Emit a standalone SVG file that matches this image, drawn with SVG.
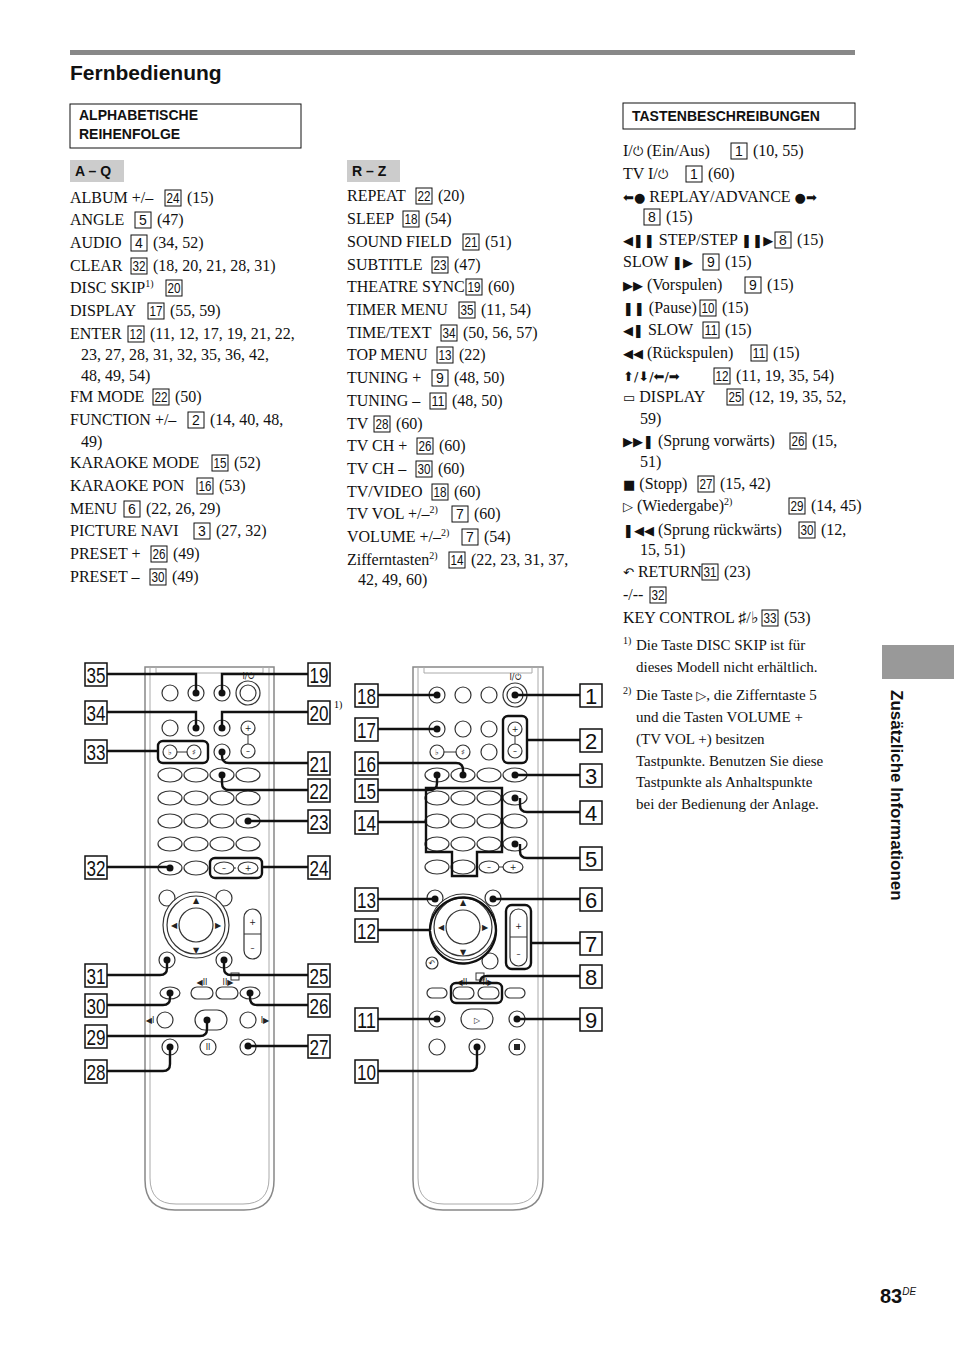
<svg xmlns="http://www.w3.org/2000/svg" width="954" height="1352" viewBox="0 0 954 1352">
<style>
.t{font-family:"Liberation Serif",serif;font-size:16px;fill:#111}
.f{font-family:"Liberation Serif",serif;font-size:15px;fill:#111}
.sup{font-size:10px}
.s{font-family:"DejaVu Sans",sans-serif;font-size:13px}
.bx{fill:#fff;stroke:#111;stroke-width:1}
.n{font-family:"Liberation Sans",sans-serif;font-size:14px;text-anchor:middle;fill:#111}
.h{font-family:"Liberation Sans",sans-serif;font-weight:bold;font-size:14px;fill:#111}
.lb{fill:#fff;stroke:#111;stroke-width:1.5}
.ln{font-family:"Liberation Sans",sans-serif;font-size:22px;text-anchor:middle;fill:#111}
.c{fill:none;stroke:#111;stroke-width:2.4}
.btn{fill:#fff;stroke:#333;stroke-width:1.2}
.body{fill:#fff;stroke:#888;stroke-width:1.5}
.dot{fill:#111}
.sym{font-family:"DejaVu Sans",sans-serif;font-size:8px;text-anchor:middle;fill:#222}
</style>
<rect x="70" y="50" width="785" height="5" fill="#888"/>
<text x="70" y="80" font-family="Liberation Sans,sans-serif" font-weight="bold" font-size="21" fill="#111">Fernbedienung</text>
<rect x="70" y="104" width="231" height="44" fill="none" stroke="#111"/>
<text class="h" x="79" y="120">ALPHABETISCHE</text>
<text class="h" x="79" y="139">REIHENFOLGE</text>
<rect x="70" y="160" width="54" height="22" fill="#ccc"/>
<text class="h" x="75" y="176">A – Q</text>
<rect x="347" y="160" width="53" height="22" fill="#ccc"/>
<text class="h" x="352" y="176">R – Z</text>
<rect x="623" y="103" width="232" height="26" fill="none" stroke="#111"/>
<text class="h" x="632" y="121">TASTENBESCHREIBUNGEN</text>

<g id="col1">
<text class="t" x="70" y="203">ALBUM +/–</text><rect class="bx" x="165" y="190" width="16" height="16"/><text class="n" x="173" y="203" textLength="13" lengthAdjust="spacingAndGlyphs">24</text><text class="t" x="187" y="203">(15)</text>
<text class="t" x="70" y="225">ANGLE</text><rect class="bx" x="135" y="212" width="16" height="16"/><text class="n" x="143" y="225">5</text><text class="t" x="157" y="225">(47)</text>
<text class="t" x="70" y="248">AUDIO</text><rect class="bx" x="131" y="235" width="16" height="16"/><text class="n" x="139" y="248">4</text><text class="t" x="153" y="248">(34, 52)</text>
<text class="t" x="70" y="271">CLEAR</text><rect class="bx" x="131" y="258" width="16" height="16"/><text class="n" x="139" y="271" textLength="13" lengthAdjust="spacingAndGlyphs">32</text><text class="t" x="153" y="271">(18, 20, 21, 28, 31)</text>
<text class="t" x="70" y="293">DISC SKIP<tspan class="sup" dy="-6">1)</tspan></text><rect class="bx" x="166" y="280" width="16" height="16"/><text class="n" x="174" y="293" textLength="13" lengthAdjust="spacingAndGlyphs">20</text>
<text class="t" x="70" y="316">DISPLAY</text><rect class="bx" x="148" y="303" width="16" height="16"/><text class="n" x="156" y="316" textLength="13" lengthAdjust="spacingAndGlyphs">17</text><text class="t" x="170" y="316">(55, 59)</text>
<text class="t" x="70" y="339">ENTER</text><rect class="bx" x="128" y="326" width="16" height="16"/><text class="n" x="136" y="339" textLength="13" lengthAdjust="spacingAndGlyphs">12</text><text class="t" x="150" y="339">(11, 12, 17, 19, 21, 22,</text>
<text class="t" x="81" y="360">23, 27, 28, 31, 32, 35, 36, 42,</text>
<text class="t" x="81" y="381">48, 49, 54)</text>
<text class="t" x="70" y="402">FM MODE</text><rect class="bx" x="153" y="389" width="16" height="16"/><text class="n" x="161" y="402" textLength="13" lengthAdjust="spacingAndGlyphs">22</text><text class="t" x="175" y="402">(50)</text>
<text class="t" x="70" y="425">FUNCTION +/–</text><rect class="bx" x="188" y="412" width="16" height="16"/><text class="n" x="196" y="425">2</text><text class="t" x="210" y="425">(14, 40, 48,</text>
<text class="t" x="81" y="447">49)</text>
<text class="t" x="70" y="468">KARAOKE MODE</text><rect class="bx" x="212" y="455" width="16" height="16"/><text class="n" x="220" y="468" textLength="13" lengthAdjust="spacingAndGlyphs">15</text><text class="t" x="234" y="468">(52)</text>
<text class="t" x="70" y="491">KARAOKE PON</text><rect class="bx" x="197" y="478" width="16" height="16"/><text class="n" x="205" y="491" textLength="13" lengthAdjust="spacingAndGlyphs">16</text><text class="t" x="219" y="491">(53)</text>
<text class="t" x="70" y="514">MENU</text><rect class="bx" x="124" y="501" width="16" height="16"/><text class="n" x="132" y="514">6</text><text class="t" x="146" y="514">(22, 26, 29)</text>
<text class="t" x="70" y="536">PICTURE NAVI</text><rect class="bx" x="194" y="523" width="16" height="16"/><text class="n" x="202" y="536">3</text><text class="t" x="216" y="536">(27, 32)</text>
<text class="t" x="70" y="559">PRESET +</text><rect class="bx" x="151" y="546" width="16" height="16"/><text class="n" x="159" y="559" textLength="13" lengthAdjust="spacingAndGlyphs">26</text><text class="t" x="173" y="559">(49)</text>
<text class="t" x="70" y="582">PRESET –</text><rect class="bx" x="150" y="569" width="16" height="16"/><text class="n" x="158" y="582" textLength="13" lengthAdjust="spacingAndGlyphs">30</text><text class="t" x="172" y="582">(49)</text>
</g>

<g id="col2">
<text class="t" x="347" y="201">REPEAT</text><rect class="bx" x="416" y="188" width="16" height="16"/><text class="n" x="424" y="201" textLength="13" lengthAdjust="spacingAndGlyphs">22</text><text class="t" x="438" y="201">(20)</text>
<text class="t" x="347" y="224">SLEEP</text><rect class="bx" x="403" y="211" width="16" height="16"/><text class="n" x="411" y="224" textLength="13" lengthAdjust="spacingAndGlyphs">18</text><text class="t" x="425" y="224">(54)</text>
<text class="t" x="347" y="247">SOUND FIELD</text><rect class="bx" x="463" y="234" width="16" height="16"/><text class="n" x="471" y="247" textLength="13" lengthAdjust="spacingAndGlyphs">21</text><text class="t" x="485" y="247">(51)</text>
<text class="t" x="347" y="270">SUBTITLE</text><rect class="bx" x="432" y="257" width="16" height="16"/><text class="n" x="440" y="270" textLength="13" lengthAdjust="spacingAndGlyphs">23</text><text class="t" x="454" y="270">(47)</text>
<text class="t" x="347" y="292">THEATRE SYNC</text><rect class="bx" x="466" y="279" width="16" height="16"/><text class="n" x="474" y="292" textLength="13" lengthAdjust="spacingAndGlyphs">19</text><text class="t" x="488" y="292">(60)</text>
<text class="t" x="347" y="315">TIMER MENU</text><rect class="bx" x="459" y="302" width="16" height="16"/><text class="n" x="467" y="315" textLength="13" lengthAdjust="spacingAndGlyphs">35</text><text class="t" x="481" y="315">(11, 54)</text>
<text class="t" x="347" y="338">TIME/TEXT</text><rect class="bx" x="441" y="325" width="16" height="16"/><text class="n" x="449" y="338" textLength="13" lengthAdjust="spacingAndGlyphs">34</text><text class="t" x="463" y="338">(50, 56, 57)</text>
<text class="t" x="347" y="360">TOP MENU</text><rect class="bx" x="437" y="347" width="16" height="16"/><text class="n" x="445" y="360" textLength="13" lengthAdjust="spacingAndGlyphs">13</text><text class="t" x="459" y="360">(22)</text>
<text class="t" x="347" y="383">TUNING +</text><rect class="bx" x="432" y="370" width="16" height="16"/><text class="n" x="440" y="383">9</text><text class="t" x="454" y="383">(48, 50)</text>
<text class="t" x="347" y="406">TUNING –</text><rect class="bx" x="430" y="393" width="16" height="16"/><text class="n" x="438" y="406" textLength="13" lengthAdjust="spacingAndGlyphs">11</text><text class="t" x="452" y="406">(48, 50)</text>
<text class="t" x="347" y="429">TV</text><rect class="bx" x="374" y="416" width="16" height="16"/><text class="n" x="382" y="429" textLength="13" lengthAdjust="spacingAndGlyphs">28</text><text class="t" x="396" y="429">(60)</text>
<text class="t" x="347" y="451">TV CH +</text><rect class="bx" x="417" y="438" width="16" height="16"/><text class="n" x="425" y="451" textLength="13" lengthAdjust="spacingAndGlyphs">26</text><text class="t" x="439" y="451">(60)</text>
<text class="t" x="347" y="474">TV CH –</text><rect class="bx" x="416" y="461" width="16" height="16"/><text class="n" x="424" y="474" textLength="13" lengthAdjust="spacingAndGlyphs">30</text><text class="t" x="438" y="474">(60)</text>
<text class="t" x="347" y="497">TV/VIDEO</text><rect class="bx" x="432" y="484" width="16" height="16"/><text class="n" x="440" y="497" textLength="13" lengthAdjust="spacingAndGlyphs">18</text><text class="t" x="454" y="497">(60)</text>
<text class="t" x="347" y="519">TV VOL +/–<tspan class="sup" dy="-6">2)</tspan></text><rect class="bx" x="452" y="506" width="16" height="16"/><text class="n" x="460" y="519">7</text><text class="t" x="474" y="519">(60)</text>
<text class="t" x="347" y="542">VOLUME +/–<tspan class="sup" dy="-6">2)</tspan></text><rect class="bx" x="462" y="529" width="16" height="16"/><text class="n" x="470" y="542">7</text><text class="t" x="484" y="542">(54)</text>
<text class="t" x="347" y="565">Zifferntasten<tspan class="sup" dy="-6">2)</tspan></text><rect class="bx" x="449" y="552" width="16" height="16"/><text class="n" x="457" y="565" textLength="13" lengthAdjust="spacingAndGlyphs">14</text><text class="t" x="471" y="565">(22, 23, 31, 37,</text>
<text class="t" x="358" y="585">42, 49, 60)</text>
</g>

<g id="col3">
<text class="t" x="623" y="156">I/<tspan class="s">⏻</tspan> (Ein/Aus)</text><rect class="bx" x="731" y="143" width="16" height="16"/><text class="n" x="739" y="156">1</text><text class="t" x="753" y="156">(10, 55)</text>
<text class="t" x="623" y="179">TV I/<tspan class="s">⏻</tspan></text><rect class="bx" x="686" y="166" width="16" height="16"/><text class="n" x="694" y="179">1</text><text class="t" x="708" y="179">(60)</text>
<text class="t" x="623" y="202"><tspan class="s">⬅●</tspan> REPLAY/ADVANCE <tspan class="s">●➡</tspan></text>
<rect class="bx" x="644" y="209" width="16" height="16"/><text class="n" x="652" y="222">8</text><text class="t" x="666" y="222">(15)</text>
<text class="t" x="623" y="245"><tspan class="s">◀❚❚</tspan> STEP/STEP <tspan class="s">❚❚▶</tspan></text><rect class="bx" x="775" y="232" width="16" height="16"/><text class="n" x="783" y="245">8</text><text class="t" x="797" y="245">(15)</text>
<text class="t" x="623" y="267">SLOW <tspan class="s">❚▶</tspan></text><rect class="bx" x="703" y="254" width="16" height="16"/><text class="n" x="711" y="267">9</text><text class="t" x="725" y="267">(15)</text>
<text class="t" x="623" y="290"><tspan class="s">▶▶</tspan> (Vorspulen)</text><rect class="bx" x="745" y="277" width="16" height="16"/><text class="n" x="753" y="290">9</text><text class="t" x="767" y="290">(15)</text>
<text class="t" x="623" y="313"><tspan class="s">❚❚</tspan> (Pause)</text><rect class="bx" x="700" y="300" width="16" height="16"/><text class="n" x="708" y="313" textLength="13" lengthAdjust="spacingAndGlyphs">10</text><text class="t" x="722" y="313">(15)</text>
<text class="t" x="623" y="335"><tspan class="s">◀❚</tspan> SLOW</text><rect class="bx" x="703" y="322" width="16" height="16"/><text class="n" x="711" y="335" textLength="13" lengthAdjust="spacingAndGlyphs">11</text><text class="t" x="725" y="335">(15)</text>
<text class="t" x="623" y="358"><tspan class="s">◀◀</tspan> (Rückspulen)</text><rect class="bx" x="751" y="345" width="16" height="16"/><text class="n" x="759" y="358" textLength="13" lengthAdjust="spacingAndGlyphs">11</text><text class="t" x="773" y="358">(15)</text>
<text class="t" x="623" y="381"><tspan class="s">⬆/⬇/⬅/➡</tspan></text><rect class="bx" x="714" y="368" width="16" height="16"/><text class="n" x="722" y="381" textLength="13" lengthAdjust="spacingAndGlyphs">12</text><text class="t" x="736" y="381">(11, 19, 35, 54)</text>
<text class="t" x="623" y="402"><tspan class="s">▭</tspan> DISPLAY</text><rect class="bx" x="727" y="389" width="16" height="16"/><text class="n" x="735" y="402" textLength="13" lengthAdjust="spacingAndGlyphs">25</text><text class="t" x="749" y="402">(12, 19, 35, 52,</text>
<text class="t" x="640" y="424">59)</text>
<text class="t" x="623" y="446"><tspan class="s">▶▶❚</tspan> (Sprung vorwärts)</text><rect class="bx" x="790" y="433" width="16" height="16"/><text class="n" x="798" y="446" textLength="13" lengthAdjust="spacingAndGlyphs">26</text><text class="t" x="812" y="446">(15,</text>
<text class="t" x="640" y="467">51)</text>
<text class="t" x="623" y="489"><tspan class="s">■</tspan> (Stopp)</text><rect class="bx" x="698" y="476" width="16" height="16"/><text class="n" x="706" y="489" textLength="13" lengthAdjust="spacingAndGlyphs">27</text><text class="t" x="720" y="489">(15, 42)</text>
<text class="t" x="623" y="511"><tspan class="s">▷</tspan> (Wiedergabe)<tspan class="sup" dy="-6">2)</tspan></text><rect class="bx" x="789" y="498" width="16" height="16"/><text class="n" x="797" y="511" textLength="13" lengthAdjust="spacingAndGlyphs">29</text><text class="t" x="811" y="511">(14, 45)</text>
<text class="t" x="623" y="535"><tspan class="s">❚◀◀</tspan> (Sprung rückwärts)</text><rect class="bx" x="799" y="522" width="16" height="16"/><text class="n" x="807" y="535" textLength="13" lengthAdjust="spacingAndGlyphs">30</text><text class="t" x="821" y="535">(12,</text>
<text class="t" x="640" y="555">15, 51)</text>
<text class="t" x="623" y="577"><tspan class="s">↶</tspan> RETURN</text><rect class="bx" x="702" y="564" width="16" height="16"/><text class="n" x="710" y="577" textLength="13" lengthAdjust="spacingAndGlyphs">31</text><text class="t" x="724" y="577">(23)</text>
<text class="t" x="623" y="600">-/--</text><rect class="bx" x="650" y="587" width="16" height="16"/><text class="n" x="658" y="600" textLength="13" lengthAdjust="spacingAndGlyphs">32</text>
<text class="t" x="623" y="623">KEY CONTROL ♯/♭</text><rect class="bx" x="762" y="610" width="16" height="16"/><text class="n" x="770" y="623" textLength="13" lengthAdjust="spacingAndGlyphs">33</text><text class="t" x="784" y="623">(53)</text>
<text class="f" x="623" y="644"><tspan class="sup">1)</tspan></text>
<text class="f" x="636" y="650">Die Taste DISC SKIP ist für</text>
<text class="f" x="636" y="672">dieses Modell nicht erhältlich.</text>
<text class="f" x="623" y="694"><tspan class="sup">2)</tspan></text>
<text class="f" x="636" y="700">Die Taste <tspan class="s">▷</tspan>, die Zifferntaste 5</text>
<text class="f" x="636" y="722">und die Tasten VOLUME +</text>
<text class="f" x="636" y="744">(TV VOL +) besitzen</text>
<text class="f" x="636" y="766">Tastpunkte. Benutzen Sie diese</text>
<text class="f" x="636" y="787">Tastpunkte als Anhaltspunkte</text>
<text class="f" x="636" y="809">bei der Bedienung der Anlage.</text>
</g>

<rect x="882" y="645" width="72" height="34" fill="#999"/>
<text transform="translate(891,690) rotate(90)" font-family="Liberation Sans,sans-serif" font-weight="bold" font-size="17" fill="#111">Zusätzliche Informationen</text>
<text x="880" y="1303" font-family="Liberation Sans,sans-serif" font-weight="bold" font-size="20" fill="#111">83<tspan font-size="10" font-style="italic" font-weight="normal" dy="-8">DE</tspan></text>

<!-- Left remote -->
<g id="remote-left">
<path class="body" d="M145 667 H274 V1180 Q274 1210 244 1210 H175 Q145 1210 145 1180 Z"/>
<path d="M150 667 V1178 Q150 1204 176 1204 H243 Q269 1204 269 1178 V667" fill="none" stroke="#aaa" stroke-width="1"/>
<path d="M156 667 V673 H263 V667" fill="none" stroke="#aaa"/>
<circle class="btn" cx="170" cy="693" r="8"/><circle class="btn" cx="196" cy="693" r="8"/><circle class="btn" cx="222" cy="693" r="8"/>
<circle class="btn" cx="248" cy="693" r="12"/><circle class="btn" cx="248" cy="693" r="8"/>
<text class="sym" x="248" y="679">I/⏻</text>
<circle class="btn" cx="170" cy="728" r="8"/><circle class="btn" cx="196" cy="728" r="8"/><circle class="btn" cx="222" cy="728" r="8"/>
<line x1="248" y1="728" x2="248" y2="751" stroke="#333"/>
<circle class="btn" cx="248" cy="728" r="7"/><circle class="btn" cx="248" cy="751" r="7"/>
<text class="sym" x="248" y="731" font-size="10">+</text><text class="sym" x="248" y="754" font-size="10">–</text>
<line x1="170" y1="752" x2="194" y2="752" stroke="#333"/>
<circle class="btn" cx="170" cy="752" r="7"/><circle class="btn" cx="194" cy="752" r="7"/>
<text class="sym" x="170" y="755">♭</text><text class="sym" x="194" y="755">♯</text>
<circle class="btn" cx="222" cy="752" r="8"/>
<g>
<ellipse class="btn" cx="170" cy="775" rx="12" ry="7"/><ellipse class="btn" cx="196" cy="775" rx="12" ry="7"/><ellipse class="btn" cx="222" cy="775" rx="12" ry="7"/><ellipse class="btn" cx="248" cy="775" rx="12" ry="7"/>
<ellipse class="btn" cx="170" cy="798" rx="12" ry="7"/><ellipse class="btn" cx="196" cy="798" rx="12" ry="7"/><ellipse class="btn" cx="222" cy="798" rx="12" ry="7"/><ellipse class="btn" cx="248" cy="798" rx="12" ry="7"/>
<ellipse class="btn" cx="170" cy="821" rx="12" ry="7"/><ellipse class="btn" cx="196" cy="821" rx="12" ry="7"/><ellipse class="btn" cx="222" cy="821" rx="12" ry="7"/><ellipse class="btn" cx="248" cy="821" rx="12" ry="7"/>
<ellipse class="btn" cx="170" cy="844" rx="12" ry="7"/><ellipse class="btn" cx="196" cy="844" rx="12" ry="7"/><ellipse class="btn" cx="222" cy="844" rx="12" ry="7"/><ellipse class="btn" cx="248" cy="844" rx="12" ry="7"/>
<ellipse class="btn" cx="170" cy="868" rx="12" ry="7"/><ellipse class="btn" cx="196" cy="868" rx="12" ry="7"/>
<line x1="224" y1="868" x2="236" y2="868" stroke="#333"/>
<ellipse class="btn" cx="224" cy="868" rx="10" ry="6"/><ellipse class="btn" cx="248" cy="868" rx="10" ry="6"/>
<text class="sym" x="224" y="871">–</text><text class="sym" x="248" y="871">+</text>
</g>
<circle class="btn" cx="167" cy="898" r="8"/><circle class="btn" cx="224" cy="898" r="8"/>
<circle class="btn" cx="196" cy="925" r="33"/><circle class="btn" cx="196" cy="925" r="29"/><circle class="btn" cx="196" cy="925" r="17"/>
<text class="sym" x="196" y="903">▲</text><text class="sym" x="196" y="953">▼</text><text class="sym" x="174" y="928">◀</text><text class="sym" x="218" y="928">▶</text>
<rect class="btn" x="244" y="909" width="17" height="50" rx="8.5"/>
<line x1="244" y1="934" x2="261" y2="934" stroke="#333"/>
<text class="sym" x="252.5" y="925" font-size="14">+</text><text class="sym" x="252.5" y="951" font-size="14">–</text>
<circle class="btn" cx="167" cy="960" r="8"/><circle class="btn" cx="224" cy="960" r="8"/>
<rect x="231" y="973" width="8" height="7" fill="none" stroke="#333"/>
<text class="sym" x="202" y="985" font-size="6">◀II</text><text class="sym" x="228" y="985" font-size="6">II▶</text>
<ellipse class="btn" cx="170" cy="993" rx="10" ry="6"/><rect class="btn" x="191" y="987" width="22" height="12" rx="6"/><rect class="btn" x="216" y="987" width="22" height="12" rx="6"/><ellipse class="btn" cx="250" cy="993" rx="10" ry="6"/>
<circle class="btn" cx="165" cy="1020" r="8"/><rect class="btn" x="195" y="1010" width="32" height="20" rx="10"/><circle class="btn" cx="248" cy="1020" r="8"/>
<text class="sym" x="150" y="1023">◀I</text><text class="sym" x="265" y="1023">I▶</text>
<circle class="btn" cx="170" cy="1047" r="8"/><circle class="btn" cx="208" cy="1047" r="8"/><circle class="btn" cx="248" cy="1047" r="8"/>
<text class="sym" x="208" y="1050">II</text>
</g>

<!-- Right remote -->
<g id="remote-right">
<path class="body" d="M413 667 H543 V1180 Q543 1210 513 1210 H443 Q413 1210 413 1180 Z"/>
<path d="M418 667 V1178 Q418 1204 444 1204 H512 Q538 1204 538 1178 V667" fill="none" stroke="#aaa" stroke-width="1"/>
<path d="M424 667 V673 H532 V667" fill="none" stroke="#aaa"/>
<circle class="btn" cx="437" cy="695" r="8"/><circle class="btn" cx="463" cy="695" r="8"/><circle class="btn" cx="489" cy="695" r="8"/>
<circle class="btn" cx="515" cy="695" r="12"/><circle class="btn" cx="515" cy="695" r="8"/>
<text class="sym" x="515" y="680">I/⏻</text>
<circle class="btn" cx="437" cy="729" r="8"/><circle class="btn" cx="463" cy="729" r="8"/><circle class="btn" cx="489" cy="729" r="8"/>
<line x1="515" y1="729" x2="515" y2="751" stroke="#333"/>
<circle class="btn" cx="515" cy="729" r="7"/><circle class="btn" cx="515" cy="751" r="7"/>
<text class="sym" x="515" y="732" font-size="10">+</text><text class="sym" x="515" y="754" font-size="10">–</text>
<line x1="437" y1="752" x2="463" y2="752" stroke="#333"/>
<circle class="btn" cx="437" cy="752" r="7"/><circle class="btn" cx="463" cy="752" r="7"/>
<text class="sym" x="437" y="755">♭</text><text class="sym" x="463" y="755">♯</text>
<circle class="btn" cx="489" cy="752" r="8"/>
<ellipse class="btn" cx="437" cy="775" rx="12" ry="7"/><ellipse class="btn" cx="463" cy="775" rx="12" ry="7"/><ellipse class="btn" cx="489" cy="775" rx="12" ry="7"/><ellipse class="btn" cx="515" cy="775" rx="12" ry="7"/>
<ellipse class="btn" cx="437" cy="798" rx="12" ry="7"/><ellipse class="btn" cx="463" cy="798" rx="12" ry="7"/><ellipse class="btn" cx="489" cy="798" rx="12" ry="7"/><ellipse class="btn" cx="515" cy="798" rx="12" ry="7"/>
<ellipse class="btn" cx="437" cy="821" rx="12" ry="7"/><ellipse class="btn" cx="463" cy="821" rx="12" ry="7"/><ellipse class="btn" cx="489" cy="821" rx="12" ry="7"/><ellipse class="btn" cx="515" cy="821" rx="12" ry="7"/>
<ellipse class="btn" cx="437" cy="844" rx="12" ry="7"/><ellipse class="btn" cx="463" cy="844" rx="12" ry="7"/><ellipse class="btn" cx="489" cy="844" rx="12" ry="7"/><ellipse class="btn" cx="515" cy="844" rx="12" ry="7"/>
<ellipse class="btn" cx="437" cy="867" rx="12" ry="7"/><ellipse class="btn" cx="463" cy="867" rx="12" ry="7"/>
<line x1="489" y1="867" x2="513" y2="867" stroke="#333"/>
<ellipse class="btn" cx="489" cy="867" rx="10" ry="6"/><ellipse class="btn" cx="513" cy="867" rx="10" ry="6"/>
<text class="sym" x="489" y="870">–</text><text class="sym" x="513" y="870">+</text>
<circle class="btn" cx="435" cy="898" r="8"/><circle class="btn" cx="493" cy="898" r="8"/>
<circle class="btn" cx="463" cy="927" r="33"/><circle class="btn" cx="463" cy="927" r="29"/><circle class="btn" cx="463" cy="927" r="17"/>
<text class="sym" x="463" y="905">▲</text><text class="sym" x="463" y="955">▼</text><text class="sym" x="441" y="930">◀</text><text class="sym" x="485" y="930">▶</text>
<rect class="btn" x="510" y="909" width="17" height="57" rx="8.5"/>
<line x1="510" y1="937" x2="527" y2="937" stroke="#333"/>
<text class="sym" x="518.5" y="929" font-size="14">+</text><text class="sym" x="518.5" y="957" font-size="14">–</text>
<circle class="btn" cx="432" cy="963" r="6"/><text class="sym" x="432" y="966">↶</text>
<circle class="btn" cx="490" cy="961" r="8"/>
<rect x="476" y="973" width="8" height="7" fill="none" stroke="#333"/>
<text class="sym" x="462" y="985" font-size="6">◀II</text><text class="sym" x="488" y="985" font-size="6">II▶</text>
<rect class="btn" x="427" y="988" width="20" height="10" rx="5"/><rect class="btn" x="453" y="987" width="21" height="12" rx="6"/><rect class="btn" x="478" y="987" width="21" height="12" rx="6"/><rect class="btn" x="505" y="988" width="20" height="10" rx="5"/>
<circle class="btn" cx="437" cy="1019" r="8"/><rect class="btn" x="461" y="1009" width="32" height="20" rx="10"/><circle class="btn" cx="517" cy="1019" r="8"/>
<text class="sym" x="477" y="1023" font-size="11">▷</text>
<circle class="btn" cx="437" cy="1047" r="8"/><circle class="btn" cx="477" cy="1047" r="8"/><circle class="btn" cx="517" cy="1047" r="8"/>
<rect x="514" y="1044" width="6" height="6" fill="#222"/>
</g>

<g id="connectors">
<path class="c" d="M107 674 H196 V693"/><path class="c" d="M107 712 H196 V728"/>
<rect x="158" y="741" width="50" height="22" rx="5" class="c"/><path class="c" d="M107 751 H158"/>
<path class="c" d="M107 867 H170"/>
<path class="c" d="M107 975 H160 Q167 975 167 968 V960"/>
<path class="c" d="M107 1005 H163 Q170 1005 170 998 V993"/>
<path class="c" d="M107 1036 H200 Q207 1036 207 1029 V1020"/>
<path class="c" d="M107 1071 H163 Q170 1071 170 1064 V1047"/>
<path class="c" d="M308 674 H222 V693"/><path class="c" d="M308 712 H222 V728"/>
<path class="c" d="M308 763 H229 Q222 763 222 756 V752"/>
<path class="c" d="M308 790 H229 Q222 790 222 783 V775"/>
<path class="c" d="M308 821 H248"/>
<rect x="210" y="858" width="52" height="20" rx="5" class="c"/><path class="c" d="M262 867 H308"/>
<path class="c" d="M308 975 H231 Q224 975 224 968 V960"/>
<path class="c" d="M308 1005 H257 Q250 1005 250 998 V993"/>
<path class="c" d="M308 1046 H248"/>
<g class="dot"><circle cx="196" cy="693" r="3.5"/><circle cx="196" cy="728" r="3.5"/><circle cx="170" cy="868" r="3.5"/><circle cx="167" cy="960" r="3.5"/><circle cx="170" cy="993" r="3.5"/><circle cx="207" cy="1020" r="3.5"/><circle cx="170" cy="1047" r="3.5"/><circle cx="222" cy="693" r="3.5"/><circle cx="222" cy="728" r="3.5"/><circle cx="222" cy="752" r="3.5"/><circle cx="222" cy="775" r="3.5"/><circle cx="248" cy="821" r="3.5"/><circle cx="224" cy="960" r="3.5"/><circle cx="250" cy="993" r="3.5"/><circle cx="248" cy="1046" r="3.5"/></g>
<path class="c" d="M378 695 H437"/><path class="c" d="M378 729 H437"/>
<path class="c" d="M378 763 H456 Q463 763 463 770 V775"/>
<path class="c" d="M378 790 H430 Q437 790 437 783 V775"/>
<path class="c" d="M426 788 H502 V852 H477 V876 H452 V852 H426 Z" fill="none"/><path class="c" d="M378 822 H426"/>
<path class="c" d="M378 899 H435"/><path class="c" d="M378 930 H430"/>
<path class="c" d="M378 1019 H437"/>
<path class="c" d="M378 1071 H470 Q477 1071 477 1064 V1047"/>
<path class="c" d="M580 695 H515"/>
<rect x="503" y="716" width="24" height="47" rx="5" class="c"/><path class="c" d="M527 740 H580"/>
<path class="c" d="M580 775 H515"/>
<path class="c" d="M580 812 H527 Q520 812 520 805 V798"/>
<path class="c" d="M580 858 H527 Q520 858 520 851 V844"/>
<path class="c" d="M580 899 H493"/>
<rect x="506" y="905" width="25" height="64" rx="6" class="c"/><path class="c" d="M531 943 H580"/>
<rect x="451" y="983" width="51" height="20" rx="5" class="c"/><path class="c" d="M580 976 H487 Q480 976 480 983"/>
<path class="c" d="M580 1019 H517"/>
<path class="c" d="M430 930 A33 33 0 1 1 430 931" fill="none"/>
<g class="dot"><circle cx="437" cy="695" r="3.5"/><circle cx="437" cy="729" r="3.5"/><circle cx="463" cy="775" r="3.5"/><circle cx="437" cy="775" r="3.5"/><circle cx="435" cy="899" r="3.5"/><circle cx="437" cy="1019" r="3.5"/><circle cx="477" cy="1047" r="3.5"/><circle cx="515" cy="695" r="3.5"/><circle cx="515" cy="775" r="3.5"/><circle cx="515" cy="798" r="3.5"/><circle cx="515" cy="844" r="3.5"/><circle cx="493" cy="899" r="3.5"/><circle cx="517" cy="1019" r="3.5"/></g>
</g>

<g id="labels-left">
<rect class="lb" x="85" y="663" width="22" height="23"/><text class="ln" x="96" y="683" textLength="19" lengthAdjust="spacingAndGlyphs">35</text>
<rect class="lb" x="85" y="701" width="22" height="23"/><text class="ln" x="96" y="721" textLength="19" lengthAdjust="spacingAndGlyphs">34</text>
<rect class="lb" x="85" y="740" width="22" height="23"/><text class="ln" x="96" y="760" textLength="19" lengthAdjust="spacingAndGlyphs">33</text>
<rect class="lb" x="85" y="856" width="22" height="23"/><text class="ln" x="96" y="876" textLength="19" lengthAdjust="spacingAndGlyphs">32</text>
<rect class="lb" x="85" y="964" width="22" height="23"/><text class="ln" x="96" y="984" textLength="19" lengthAdjust="spacingAndGlyphs">31</text>
<rect class="lb" x="85" y="994" width="22" height="23"/><text class="ln" x="96" y="1014" textLength="19" lengthAdjust="spacingAndGlyphs">30</text>
<rect class="lb" x="85" y="1025" width="22" height="23"/><text class="ln" x="96" y="1045" textLength="19" lengthAdjust="spacingAndGlyphs">29</text>
<rect class="lb" x="85" y="1060" width="22" height="23"/><text class="ln" x="96" y="1080" textLength="19" lengthAdjust="spacingAndGlyphs">28</text>
<rect class="lb" x="308" y="663" width="22" height="23"/><text class="ln" x="319" y="683" textLength="19" lengthAdjust="spacingAndGlyphs">19</text>
<rect class="lb" x="308" y="701" width="22" height="23"/><text class="ln" x="319" y="721" textLength="19" lengthAdjust="spacingAndGlyphs">20</text>
<text x="334" y="708" font-family="Liberation Serif,serif" font-size="10">1)</text>
<rect class="lb" x="308" y="752" width="22" height="23"/><text class="ln" x="319" y="772" textLength="19" lengthAdjust="spacingAndGlyphs">21</text>
<rect class="lb" x="308" y="779" width="22" height="23"/><text class="ln" x="319" y="799" textLength="19" lengthAdjust="spacingAndGlyphs">22</text>
<rect class="lb" x="308" y="810" width="22" height="23"/><text class="ln" x="319" y="830" textLength="19" lengthAdjust="spacingAndGlyphs">23</text>
<rect class="lb" x="308" y="856" width="22" height="23"/><text class="ln" x="319" y="876" textLength="19" lengthAdjust="spacingAndGlyphs">24</text>
<rect class="lb" x="308" y="964" width="22" height="23"/><text class="ln" x="319" y="984" textLength="19" lengthAdjust="spacingAndGlyphs">25</text>
<rect class="lb" x="308" y="994" width="22" height="23"/><text class="ln" x="319" y="1014" textLength="19" lengthAdjust="spacingAndGlyphs">26</text>
<rect class="lb" x="308" y="1035" width="22" height="23"/><text class="ln" x="319" y="1055" textLength="19" lengthAdjust="spacingAndGlyphs">27</text>
</g>
<g id="labels-right">
<rect class="lb" x="355" y="684" width="23" height="23"/><text class="ln" x="366.5" y="704" textLength="19" lengthAdjust="spacingAndGlyphs">18</text>
<rect class="lb" x="355" y="718" width="23" height="23"/><text class="ln" x="366.5" y="738" textLength="19" lengthAdjust="spacingAndGlyphs">17</text>
<rect class="lb" x="355" y="752" width="23" height="23"/><text class="ln" x="366.5" y="772" textLength="19" lengthAdjust="spacingAndGlyphs">16</text>
<rect class="lb" x="355" y="779" width="23" height="23"/><text class="ln" x="366.5" y="799" textLength="19" lengthAdjust="spacingAndGlyphs">15</text>
<rect class="lb" x="355" y="811" width="23" height="23"/><text class="ln" x="366.5" y="831" textLength="19" lengthAdjust="spacingAndGlyphs">14</text>
<rect class="lb" x="355" y="888" width="23" height="23"/><text class="ln" x="366.5" y="908" textLength="19" lengthAdjust="spacingAndGlyphs">13</text>
<rect class="lb" x="355" y="919" width="23" height="23"/><text class="ln" x="366.5" y="939" textLength="19" lengthAdjust="spacingAndGlyphs">12</text>
<rect class="lb" x="355" y="1008" width="23" height="23"/><text class="ln" x="366.5" y="1028" textLength="19" lengthAdjust="spacingAndGlyphs">11</text>
<rect class="lb" x="355" y="1060" width="23" height="23"/><text class="ln" x="366.5" y="1080" textLength="19" lengthAdjust="spacingAndGlyphs">10</text>
<rect class="lb" x="580" y="684" width="22" height="23"/><text class="ln" x="591" y="704">1</text>
<rect class="lb" x="580" y="729" width="22" height="23"/><text class="ln" x="591" y="749">2</text>
<rect class="lb" x="580" y="764" width="22" height="23"/><text class="ln" x="591" y="784">3</text>
<rect class="lb" x="580" y="801" width="22" height="23"/><text class="ln" x="591" y="821">4</text>
<rect class="lb" x="580" y="847" width="22" height="23"/><text class="ln" x="591" y="867">5</text>
<rect class="lb" x="580" y="888" width="22" height="23"/><text class="ln" x="591" y="908">6</text>
<rect class="lb" x="580" y="932" width="22" height="23"/><text class="ln" x="591" y="952">7</text>
<rect class="lb" x="580" y="965" width="22" height="23"/><text class="ln" x="591" y="985">8</text>
<rect class="lb" x="580" y="1008" width="22" height="23"/><text class="ln" x="591" y="1028">9</text>
</g>
</svg>
